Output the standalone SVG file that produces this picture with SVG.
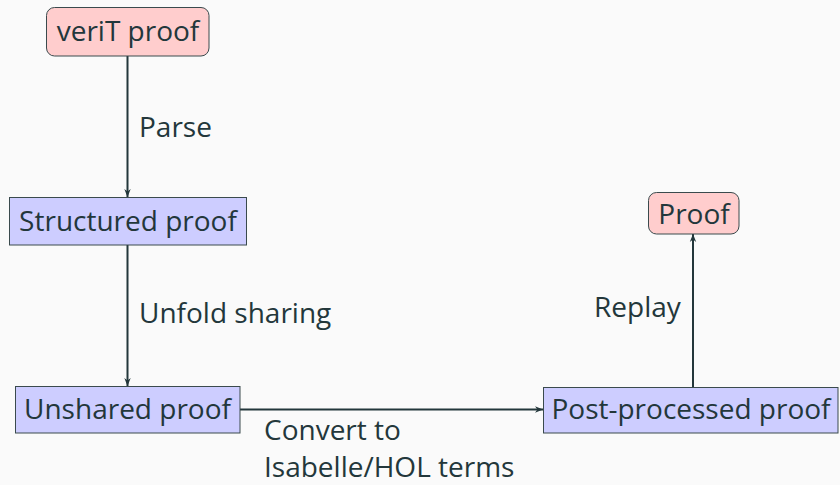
<svg xmlns="http://www.w3.org/2000/svg" width="840" height="485" viewBox="0 0 840 485">
<defs>
<style>
text{font-family:"Open Sans","Noto Sans",sans-serif;font-size:28px;fill:#23373b}
.c{text-anchor:middle}
.red{fill:#ffcdcd;stroke:#3a4a4d;stroke-width:1}
.blue{fill:#cdcdff;stroke:#3a4a4d;stroke-width:1}
.edge{stroke:#23373b;stroke-width:2;fill:none;marker-end:url(#ah)}
</style>
<marker id="ah" viewBox="0 0 10 10" refX="10" refY="5" markerWidth="8" markerHeight="8" markerUnits="userSpaceOnUse" orient="auto">
<path d="M0,1 L10,5 L0,9 L3,5 Z" fill="#23373b"/>
</marker>
</defs>
<rect width="840" height="485" fill="#fafafa"/>
<g id="connectors">
<line class="edge" x1="127.5" y1="56" x2="127.5" y2="197"/>
<line class="edge" x1="127.5" y1="245" x2="127.5" y2="386"/>
<line class="edge" x1="240" y1="409.5" x2="543" y2="409.5"/>
<line class="edge" x1="693" y1="387" x2="693" y2="234"/>
<text x="139" y="137">Parse</text>
<text x="139" y="323">Unfold sharing</text>
<text x="264" y="440">Convert to</text>
<text x="264" y="477">Isabelle/HOL terms</text>
<text x="594" y="317">Replay</text>
</g>
<g id="verit">
<rect class="red" x="46.5" y="7.5" width="162.5" height="48.5" rx="8"/>
<text class="c" x="128" y="41">veriT proof</text>
</g>
<g id="structured">
<rect class="blue" x="9.5" y="197.5" width="237" height="47.5"/>
<text class="c" x="128" y="231">Structured proof</text>
</g>
<g id="unshared">
<rect class="blue" x="15.5" y="386.5" width="224.5" height="46.5"/>
<text class="c" x="127.5" y="419">Unshared proof</text>
</g>
<g id="postprocessed">
<rect class="blue" x="543.5" y="387.5" width="294.5" height="45.5"/>
<text class="c" x="691" y="419">Post-processed proof</text>
</g>
<g id="proof">
<rect class="red" x="648.5" y="192.5" width="90.5" height="41.5" rx="8"/>
<text class="c" x="694" y="224">Proof</text>
</g>
</svg>
